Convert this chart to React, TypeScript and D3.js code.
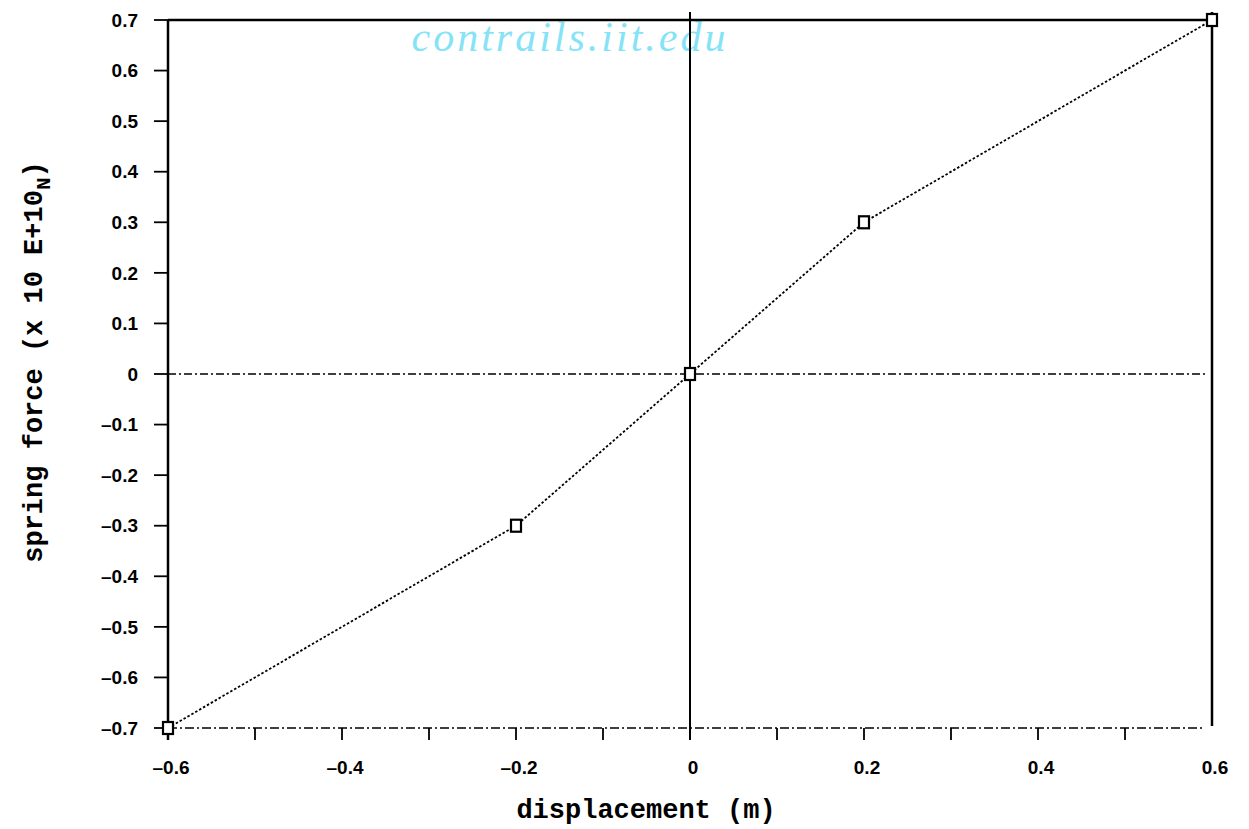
import React from 'react';
import * as d3 from 'd3';

// spring force vs displacement
const displacement = [-0.6, -0.2, 0, 0.2, 0.6];
const springForce = [-0.7, -0.3, 0, 0.3, 0.7];

const xTickValues = [-0.6, -0.4, -0.2, 0, 0.2, 0.4, 0.6];
const xMinorTicks = [-0.6, -0.5, -0.4, -0.3, -0.2, -0.1, 0, 0.1, 0.2, 0.3, 0.4, 0.5];
const yTickValues = [0.7, 0.6, 0.5, 0.4, 0.3, 0.2, 0.1, 0, -0.1, -0.2, -0.3, -0.4, -0.5, -0.6, -0.7];

const W = 1249;
const H = 829;

const fmt = (v: number) => {
  if (Math.abs(v) < 1e-9) return '0';
  const s = Math.abs(v).toFixed(1);
  return (v < 0 ? '\u2013' : '') + s;
};

const App: React.FC = () => {
  const x = d3.scaleLinear().domain([-0.6, 0.6]).range([168, 1212]);
  const y = d3.scaleLinear().domain([-0.7, 0.7]).range([728, 20]);

  const pts = displacement.map((d, i) => ({ x: d, y: springForce[i] }));
  const line = d3.line<{ x: number; y: number }>()
    .x(d => x(d.x))
    .y(d => y(d.y));

  const tickFont = "'Liberation Sans', Arial, sans-serif";
  const titleFont = "'Liberation Mono', 'Courier New', monospace";

  const x0 = x(-0.6), x1 = x(0.6);
  const y0 = y(-0.7), y1 = y(0.7);

  return (
    <svg width={W} height={H} style={{ position: 'absolute', left: 0, top: 0, background: '#fff' }}>
      {/* watermark */}
      <text x={570} y={51} textAnchor="middle" fill="#86e3f7"
        fontFamily="'Liberation Serif', serif" fontStyle="italic" fontSize={42} letterSpacing={3}>
        contrails.iit.edu
      </text>

      {/* frame */}
      <line x1={x0} y1={y1} x2={x1} y2={y1} stroke="#000" strokeWidth={2.5} />
      <line x1={x0} y1={y1} x2={x0} y2={y0 + 12} stroke="#000" strokeWidth={2.5} />
      <line x1={x1} y1={y1 - 8} x2={x1} y2={y0 - 2} stroke="#000" strokeWidth={2.5} />
      <line x1={x0} y1={y0} x2={x1 - 10} y2={y0} stroke="#000" strokeWidth={1.5} strokeDasharray="9 3 2 3" />

      {/* zero lines */}
      <line x1={x0} y1={y(0)} x2={x1 - 6} y2={y(0)} stroke="#000" strokeWidth={1.3} strokeDasharray="8 3 2 3" />
      <line x1={x(0)} y1={y1 - 8} x2={x(0)} y2={y0 + 12} stroke="#000" strokeWidth={2} />

      {/* x ticks */}
      {xMinorTicks.map(t => (
        <line key={'xt' + t} x1={x(t)} y1={y0} x2={x(t)} y2={y0 + 12} stroke="#000" strokeWidth={1.8} />
      ))}
      {xTickValues.map(t => (
        <text key={'xl' + t} x={x(t) + 3} y={y0 + 46} textAnchor="middle"
          fontFamily={tickFont} fontWeight="bold" fontSize={19}>
          {fmt(t)}
        </text>
      ))}

      {/* y ticks */}
      {yTickValues.map(t => (
        <g key={'yt' + t}>
          <line x1={x0 - 14} y1={y(t)} x2={x0} y2={y(t)} stroke="#000" strokeWidth={1.8} />
          <text x={x0 - 30} y={y(t)} dy="0.35em" textAnchor="end"
            fontFamily={tickFont} fontWeight="bold" fontSize={19}>
            {fmt(t)}
          </text>
        </g>
      ))}

      {/* data */}
      <path d={line(pts) || ''} fill="none" stroke="#000" strokeWidth={1.8} strokeDasharray="2.5 2" />
      {pts.map((p, i) => (
        <rect key={'m' + i} x={x(p.x) - 5} y={y(p.y) - 6} width={10} height={12}
          fill="#fff" stroke="#000" strokeWidth={2.2} />
      ))}

      {/* axis titles */}
      <text x={646} y={818} textAnchor="middle" fontFamily={titleFont} fontWeight="bold" fontSize={27}>
        displacement (m)
      </text>
      <text transform="translate(42,362) rotate(-90)" textAnchor="middle"
        fontFamily={titleFont} fontWeight="bold" fontSize={27}>
        spring force (x 10 E+10<tspan dy="8" fontSize={21}>N</tspan><tspan dy="-8">)</tspan>
      </text>
    </svg>
  );
};

export default App;
